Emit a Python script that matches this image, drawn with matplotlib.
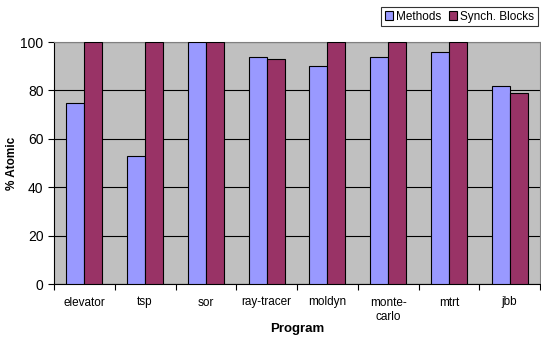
import numpy as np
import matplotlib.pyplot as plt

programs = ['elevator', 'tsp', 'sor', 'ray-tracer', 'moldyn', 'monte-\ncarlo', 'mtrt', 'jbb']
methods = [75, 53, 100, 94, 90, 94, 96, 82]
synch_blocks = [100, 100, 100, 93, 100, 100, 100, 79]

plt.rcParams['font.family'] = ['Liberation Sans', 'DejaVu Sans']

fig = plt.figure(figsize=(5.41, 3.37), dpi=100)
ax = fig.add_axes([54 / 541, 1 - 284 / 337, 486 / 541, 242 / 337])

x = np.arange(len(programs))
w = 0.295
ax.bar(x - w / 2, methods, w, color='#9999FF', edgecolor='black', linewidth=0.8,
       label='Methods', zorder=3)
ax.bar(x + w / 2, synch_blocks, w, color='#993366', edgecolor='black', linewidth=0.8,
       label='Synch. Blocks', zorder=3)

ax.set_facecolor('#C0C0C0')
ax.set_xlim(-0.5, len(programs) - 0.5)
ax.set_ylim(0, 100)
ax.set_yticks(range(0, 101, 20))
ax.yaxis.grid(True, color='black', linewidth=0.8, zorder=1)
ax.set_axisbelow(True)

ax.set_xticks(x)
ax.set_xticklabels(programs, fontsize=8.5, linespacing=1.3)
ax.tick_params(axis='x', length=0, pad=9)
ax.set_xticks(np.arange(len(programs) + 1) - 0.5, minor=True)
ax.tick_params(axis='x', which='minor', length=4, width=0.8, direction='out')
ax.tick_params(axis='y', labelsize=10, length=4, width=0.8, direction='out')

for s in ['top', 'right']:
    ax.spines[s].set_color('#808080')
    ax.spines[s].set_linewidth(0.8)
for s in ['left', 'bottom']:
    ax.spines[s].set_color('black')
    ax.spines[s].set_linewidth(0.8)

ax.set_ylabel('% Atomic', fontsize=8.5, fontweight='bold', va='center')
ax.yaxis.set_label_coords(-0.087, 0.5)
ax.set_xlabel('Program', fontsize=9.5, fontweight='bold', va='center')
ax.xaxis.set_label_coords(0.5, -0.186)

leg = ax.legend(loc='upper right', bbox_to_anchor=(538 / 541, 1 - 7 / 337),
                bbox_transform=fig.transFigure, ncol=2, fontsize=8.5,
                frameon=True, fancybox=False, edgecolor='black',
                handlelength=0.7, handleheight=0.7, handletextpad=0.3,
                columnspacing=0.6, borderpad=0.3, borderaxespad=0)
leg.get_frame().set_linewidth(0.8)

fig.savefig('out.png', dpi=100)
